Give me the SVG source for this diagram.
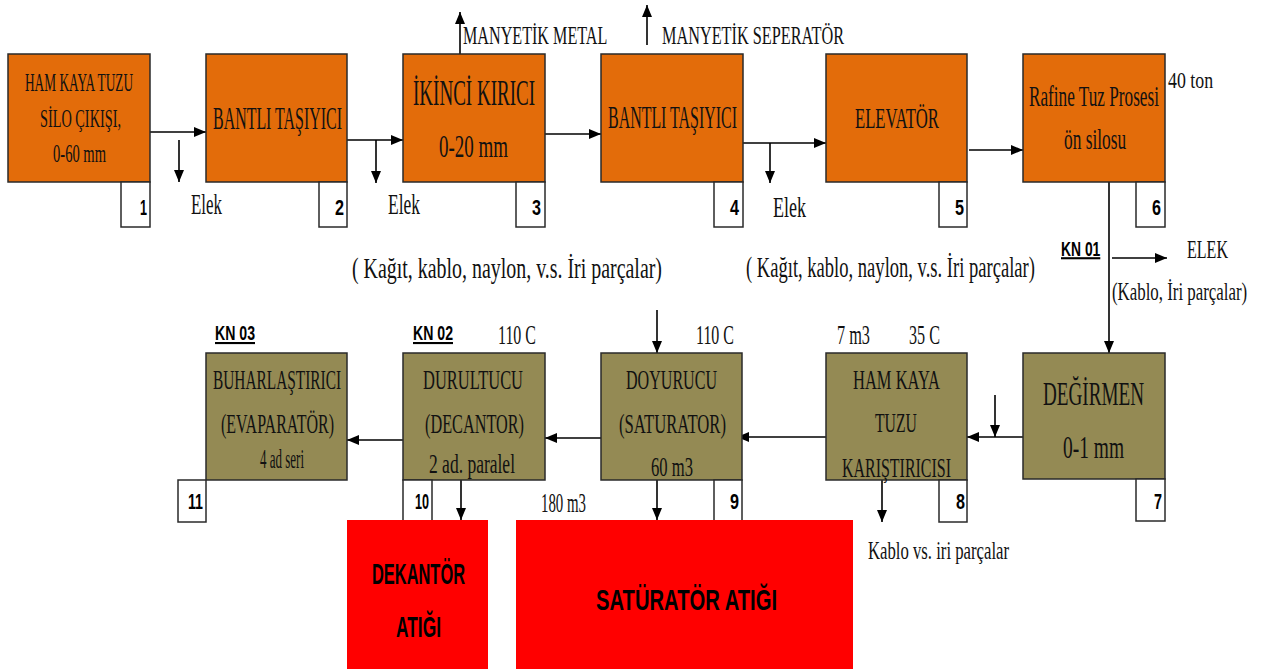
<svg xmlns="http://www.w3.org/2000/svg" width="1265" height="671" viewBox="0 0 1265 671">
<style>
.o{fill:#E36C0A;stroke:#2a2a2a;stroke-width:1.5}
.g{fill:#948A54;stroke:#2a2a2a;stroke-width:1.5}
.r{fill:#FF0000}
.n{fill:#fff;stroke:#2a2a2a;stroke-width:1.5}
.t{font-family:"Liberation Serif",serif;fill:#111}
.num{font-family:"Liberation Sans",Arial,sans-serif;font-weight:bold;font-size:22px;fill:#000}
.kn{font-family:"Liberation Sans",Arial,sans-serif;font-weight:bold;font-size:21px;fill:#000;text-decoration:underline}
.rt{font-family:"Liberation Sans",Arial,sans-serif;font-weight:bold;font-size:30px;fill:#000}
.c{fill:none;stroke:#000;stroke-width:1.6}
</style>
<defs>
<marker id="ah" markerUnits="userSpaceOnUse" markerWidth="12" markerHeight="10" refX="12" refY="5" orient="auto">
<path d="M0,0 L12,5 L0,10 z" fill="#000"/>
</marker>
</defs>
<rect width="1265" height="671" fill="#fff"/>

<g id="connectors">
<path class="c" d="M150,132 H206" marker-end="url(#ah)"/>
<path class="c" d="M179,140 V182" marker-end="url(#ah)"/>
<path class="c" d="M340,140 H403" marker-end="url(#ah)"/>
<path class="c" d="M376,140 V183" marker-end="url(#ah)"/>
<path class="c" d="M545,134 H601" marker-end="url(#ah)"/>
<path class="c" d="M460,54 V12" marker-end="url(#ah)"/>
<path class="c" d="M647,45 V5" marker-end="url(#ah)"/>
<path class="c" d="M743,143 H826" marker-end="url(#ah)"/>
<path class="c" d="M770,143 V183" marker-end="url(#ah)"/>
<path class="c" d="M969,150 H1023" marker-end="url(#ah)"/>
<path class="c" d="M1109,182 V353" marker-end="url(#ah)"/>
<path class="c" d="M1112,258 H1167" marker-end="url(#ah)"/>
<path class="c" d="M1023,437 H967" marker-end="url(#ah)"/>
<path class="c" d="M995,395 V437" marker-end="url(#ah)"/>
<path class="c" d="M826,437 H737" marker-end="url(#ah)"/>
<path class="c" d="M601,438 H545" marker-end="url(#ah)"/>
<path class="c" d="M403,440 H347" marker-end="url(#ah)"/>
<path class="c" d="M882,480 V522" marker-end="url(#ah)"/>
<path class="c" d="M657,310 V353" marker-end="url(#ah)"/>
<path class="c" d="M657,480 V520" marker-end="url(#ah)"/>
<path class="c" d="M461,480 V520" marker-end="url(#ah)"/>
</g>

<g id="node1">
<rect class="o" x="8" y="54" width="142" height="128"/>
<rect class="n" x="121" y="182" width="29" height="45"/>
<text class="t" x="25" y="91" font-size="25" textLength="108" lengthAdjust="spacingAndGlyphs">HAM KAYA TUZU</text>
<text class="t" x="40" y="127" font-size="25" textLength="81" lengthAdjust="spacingAndGlyphs">SİLO ÇIKIŞI,</text>
<text class="t" x="53" y="162" font-size="25" textLength="53" lengthAdjust="spacingAndGlyphs">0-60 mm</text>
<text class="num" x="140" y="215" textLength="7" lengthAdjust="spacingAndGlyphs">1</text>
</g>

<g id="node2">
<rect class="o" x="206" y="54" width="141" height="128"/>
<rect class="n" x="319" y="182" width="28" height="45"/>
<text class="t" x="213" y="129" font-size="32" textLength="129" lengthAdjust="spacingAndGlyphs">BANTLI TAŞIYICI</text>
<text class="num" x="335" y="215" textLength="9" lengthAdjust="spacingAndGlyphs">2</text>
</g>

<g id="node3">
<rect class="o" x="403" y="54" width="142" height="128"/>
<rect class="n" x="516" y="182" width="29" height="45"/>
<text class="t" x="413" y="105" font-size="35" textLength="122" lengthAdjust="spacingAndGlyphs">İKİNCİ KIRICI</text>
<text class="t" x="439" y="157" font-size="32" textLength="69" lengthAdjust="spacingAndGlyphs">0-20 mm</text>
<text class="num" x="532" y="215" textLength="9" lengthAdjust="spacingAndGlyphs">3</text>
</g>

<g id="node4">
<rect class="o" x="601" y="54" width="142" height="128"/>
<rect class="n" x="714" y="182" width="29" height="45"/>
<text class="t" x="608" y="128" font-size="32" textLength="129" lengthAdjust="spacingAndGlyphs">BANTLI TAŞIYICI</text>
<text class="num" x="730" y="215" textLength="9" lengthAdjust="spacingAndGlyphs">4</text>
</g>

<g id="node5">
<rect class="o" x="826" y="54" width="141" height="128"/>
<rect class="n" x="939" y="182" width="28" height="45"/>
<text class="t" x="855" y="128" font-size="30" textLength="84" lengthAdjust="spacingAndGlyphs">ELEVATÖR</text>
<text class="num" x="955" y="215" textLength="9" lengthAdjust="spacingAndGlyphs">5</text>
</g>

<g id="node6">
<rect class="o" x="1023" y="54" width="142" height="128"/>
<rect class="n" x="1136" y="182" width="29" height="45"/>
<text class="t" font-size="30" transform="translate(1029,106) scale(0.57,1)" textLength="228" lengthAdjust="spacingAndGlyphs">Rafine Tuz Prosesi</text>
<text class="t" font-size="30" transform="translate(1064,149) scale(0.57,1)" textLength="109" lengthAdjust="spacingAndGlyphs">ön silosu</text>
<text class="num" x="1152" y="215" textLength="9" lengthAdjust="spacingAndGlyphs">6</text>
</g>

<g id="node7">
<rect class="g" x="1023" y="353" width="142" height="126"/>
<rect class="n" x="1136" y="479" width="29" height="42"/>
<text class="t" x="1043" y="405" font-size="33" textLength="101" lengthAdjust="spacingAndGlyphs">DEĞİRMEN</text>
<text class="t" x="1063" y="458" font-size="32" textLength="61" lengthAdjust="spacingAndGlyphs">0-1 mm</text>
<text class="num" x="1154" y="509" textLength="8" lengthAdjust="spacingAndGlyphs">7</text>
</g>

<g id="node8">
<rect class="g" x="826" y="353" width="141" height="127"/>
<rect class="n" x="939" y="480" width="28" height="42"/>
<text class="t" x="853" y="389" font-size="27" textLength="87" lengthAdjust="spacingAndGlyphs">HAM KAYA</text>
<text class="t" x="875" y="432" font-size="27" textLength="42" lengthAdjust="spacingAndGlyphs">TUZU</text>
<text class="t" x="842" y="477" font-size="27" textLength="109" lengthAdjust="spacingAndGlyphs">KARIŞTIRICISI</text>
<text class="num" x="956" y="509" textLength="9" lengthAdjust="spacingAndGlyphs">8</text>
</g>

<g id="node9">
<rect class="g" x="601" y="353" width="141" height="127"/>
<rect class="n" x="714" y="480" width="28" height="41"/>
<text class="t" x="626" y="389" font-size="27" textLength="91" lengthAdjust="spacingAndGlyphs">DOYURUCU</text>
<text class="t" x="619" y="433" font-size="27" textLength="107" lengthAdjust="spacingAndGlyphs">(SATURATOR)</text>
<text class="t" x="651" y="476" font-size="27" textLength="42" lengthAdjust="spacingAndGlyphs">60 m3</text>
<text class="num" x="730" y="509" textLength="9" lengthAdjust="spacingAndGlyphs">9</text>
</g>

<g id="node10">
<rect class="g" x="403" y="353" width="142" height="127"/>
<rect class="n" x="403" y="480" width="29" height="41"/>
<text class="t" x="423" y="389" font-size="27" textLength="100" lengthAdjust="spacingAndGlyphs">DURULTUCU</text>
<text class="t" x="425" y="433" font-size="27" textLength="99" lengthAdjust="spacingAndGlyphs">(DECANTOR)</text>
<text class="t" x="429" y="473" font-size="27" textLength="86" lengthAdjust="spacingAndGlyphs">2 ad. paralel</text>
<text class="num" x="415" y="509" textLength="14" lengthAdjust="spacingAndGlyphs">10</text>
</g>

<g id="node11">
<rect class="g" x="206" y="353" width="141" height="127"/>
<rect class="n" x="178" y="480" width="28" height="42"/>
<text class="t" x="213" y="389" font-size="27" textLength="128" lengthAdjust="spacingAndGlyphs">BUHARLAŞTIRICI</text>
<text class="t" x="221" y="433" font-size="27" textLength="113" lengthAdjust="spacingAndGlyphs">(EVAPARATÖR)</text>
<text class="t" x="260" y="468" font-size="27" textLength="44" lengthAdjust="spacingAndGlyphs">4 ad seri</text>
<text class="num" x="188" y="509" textLength="15" lengthAdjust="spacingAndGlyphs">11</text>
</g>

<g id="dekantor-atigi">
<rect class="r" x="347" y="520" width="141" height="149"/>
<text class="rt" x="372" y="584" textLength="93" lengthAdjust="spacingAndGlyphs">DEKANTÖR</text>
<text class="rt" x="396" y="637" textLength="45" lengthAdjust="spacingAndGlyphs">ATIĞI</text>
</g>

<g id="saturator-atigi">
<rect class="r" x="516" y="520" width="337" height="149"/>
<text class="rt" x="596" y="610" textLength="181" lengthAdjust="spacingAndGlyphs">SATÜRATÖR ATIĞI</text>
</g>

<g id="labels">
<text class="t" font-size="26" transform="translate(463,44) scale(0.614,1)" textLength="235" lengthAdjust="spacingAndGlyphs">MANYETİK METAL</text>
<text class="t" font-size="26" transform="translate(662,44) scale(0.619,1)" textLength="294" lengthAdjust="spacingAndGlyphs">MANYETİK SEPERATÖR</text>
<text class="t" font-size="24" transform="translate(1168,88) scale(0.74,1)" textLength="61" lengthAdjust="spacingAndGlyphs">40 ton</text>
<text class="t" x="191" y="214" font-size="29" textLength="31" lengthAdjust="spacingAndGlyphs">Elek</text>
<text class="t" x="388" y="214" font-size="29" textLength="32" lengthAdjust="spacingAndGlyphs">Elek</text>
<text class="t" x="773" y="217" font-size="29" textLength="33" lengthAdjust="spacingAndGlyphs">Elek</text>
<text class="t" font-size="30" transform="translate(352,278) scale(0.661,1)" textLength="469" lengthAdjust="spacingAndGlyphs">( Kağıt, kablo, naylon, v.s. İri parçalar)</text>
<text class="t" font-size="30" transform="translate(746,277) scale(0.616,1)" textLength="469" lengthAdjust="spacingAndGlyphs">( Kağıt, kablo, naylon, v.s. İri parçalar)</text>
<text class="kn" transform="translate(1061,256) scale(0.655,1)" textLength="60" lengthAdjust="spacingAndGlyphs">KN 01</text>
<text class="t" font-size="25" transform="translate(1187,258) scale(0.64,1)" textLength="64" lengthAdjust="spacingAndGlyphs">ELEK</text>
<text class="t" font-size="26" transform="translate(1112,300) scale(0.647,1)" textLength="209" lengthAdjust="spacingAndGlyphs">(Kablo, İri parçalar)</text>
<text class="kn" x="215" y="340" textLength="40" lengthAdjust="spacingAndGlyphs">KN 03</text>
<text class="kn" x="413" y="340" textLength="40" lengthAdjust="spacingAndGlyphs">KN 02</text>
<text class="t" x="498" y="344" font-size="28" textLength="38" lengthAdjust="spacingAndGlyphs">110 C</text>
<text class="t" x="696" y="344" font-size="28" textLength="38" lengthAdjust="spacingAndGlyphs">110 C</text>
<text class="t" x="837" y="344" font-size="28" textLength="33" lengthAdjust="spacingAndGlyphs">7 m3</text>
<text class="t" x="909" y="344" font-size="28" textLength="31" lengthAdjust="spacingAndGlyphs">35 C</text>
<text class="t" x="541" y="512" font-size="27" textLength="45" lengthAdjust="spacingAndGlyphs">180 m3</text>
<text class="t" x="868" y="559" font-size="25" textLength="141" lengthAdjust="spacingAndGlyphs">Kablo vs. iri parçalar</text>
</g>
</svg>
